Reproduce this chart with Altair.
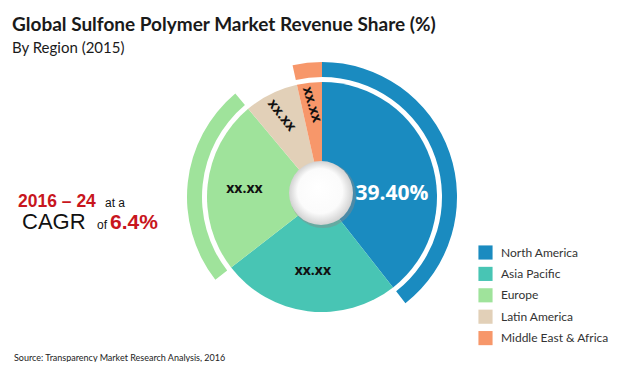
import altair as alt
import pandas as pd

regions = ["North America", "Asia Pacific", "Europe", "Latin America", "Middle East & Africa"]
shares = [39.4, 25.1, 24.4, 7.6, 3.5]
slice_labels = ["", "xx.xx", "xx.xx", "xx.xx", "xx.xx"]
main_label = ["39.40%", "", "", "", ""]
has_outer = [1, 0, 1, 0, 1]
colors = ["#1a8bc0", "#48c5b4", "#9fe39b", "#e2d0b8", "#f7976a"]
label_radius = [0, 75, 78, 91, 93]
label_rotation = [0, 0, 0, 52, 73]

title = "Global Sulfone Polymer Market Revenue Share (%)"
subtitle = "By Region (2015)"
source = "Source: Transparency Market Research Analysis, 2016"

df = pd.DataFrame({
    "region": regions,
    "share": shares,
    "idx": list(range(len(regions))),
    "lab": slice_labels,
    "main": main_label,
    "outer": has_outer,
    "r": label_radius,
    "rot": label_rotation,
})

CX, CY = 314, 189
R_PIE = 115
theta = alt.Theta("share:Q", stack=True)
order = alt.Order("idx:Q")

base = alt.Chart(df)

color = alt.Color(
    "region:N",
    scale=alt.Scale(domain=regions, range=colors),
    legend=alt.Legend(
        orient="none", legendX=470, legendY=237, title=None,
        symbolType="square", symbolSize=200, symbolStrokeWidth=0,
        labelFont="Lato", labelFontSize=12, labelColor="#333333", labelLimit=220,
        rowPadding=6.4, padding=0, labelOffset=8,
    ),
    sort=regions,
)

pie = base.mark_arc(radius=R_PIE, innerRadius=0).encode(
    theta=theta, order=order, color=color,
    x=alt.value(CX), y=alt.value(CY),
)

outer = base.mark_arc(radius=135, innerRadius=120).encode(
    theta=theta, order=order, color=color,
    opacity=alt.Opacity("outer:Q", scale=None),
    x=alt.value(CX), y=alt.value(CY),
)

labels = base.transform_window(
    cum="sum(share)", sort=[alt.SortField("idx")], frame=[None, 0]
).transform_joinaggregate(
    total="sum(share)"
).transform_calculate(
    mid="(datum.cum - datum.share / 2) / datum.total * 2 * PI",
    lx=f"{CX} + datum.r * sin(datum.mid)",
    ly=f"{CY} - datum.r * cos(datum.mid)",
).mark_text(font="Open Sans", fontWeight="bold", fontSize=14, fill="#111111").encode(
    x=alt.X("lx:Q", scale=None, axis=None),
    y=alt.Y("ly:Q", scale=None, axis=None),
    angle=alt.Angle("rot:Q", scale=None),
    text="lab:N",
)

main = base.mark_text(font="Open Sans", fontWeight="bold", fontSize=21, fill="white",
                      radius=72, dx=2, dy=21).encode(
    theta=theta, order=order, text="main:N",
    x=alt.value(CX), y=alt.value(CY),
)

one = alt.Chart(pd.DataFrame({"a": [0]}))

shadow = one.mark_arc(radius=33, theta=0, theta2=6.2832, fill="#8a8a8a", opacity=0.45).encode(
    x=alt.value(CX + 1), y=alt.value(CY - 2))
hole = one.mark_arc(
    radius=32, theta=0, theta2=6.2832,
    fill=alt.RadialGradient(
        gradient="radial",
        stops=[alt.GradientStop(color="#ffffff", offset=0),
               alt.GradientStop(color="#fbfbfb", offset=0.7),
               alt.GradientStop(color="#d2d2d2", offset=1)],
        x1=0.45, y1=0.4, x2=0.5, y2=0.5, r1=0, r2=0.5,
    ),
).encode(x=alt.value(CX - 1), y=alt.value(CY - 4))


def txt(text, x, y, size, weight="normal", color="#111111", font="Lato"):
    return one.mark_text(text=text, align="left", baseline="alphabetic", fontSize=size,
                         fontWeight=weight, fill=color, font=font).encode(
        x=alt.value(x), y=alt.value(y))


red = "#c8161d"
texts = [
    txt(title, 4, 23, 19, "bold", "#1a1a1a"),
    txt(subtitle, 4, 45, 15, "normal", "#1a1a1a"),
    txt("2016 – 24", 10, 199, 17.5, "bold", red, "Liberation Sans"),
    txt("at a", 97, 199, 12, "normal", "#111111", "Liberation Sans"),
    txt("CAGR", 14, 221, 22, "normal", "#111111", "Liberation Sans"),
    txt("of", 89, 221, 12, "normal", "#111111", "Liberation Sans"),
    txt("6.4%", 102, 221, 21, "bold", red, "Liberation Sans"),
    txt(source, 6, 353, 9, "normal", "#222222"),
]

chart = alt.layer(outer, pie, shadow, hole, labels, main, *texts).properties(
    width=604, height=354, padding=0, autosize=alt.AutoSizeParams(type="none"),
).configure_view(stroke=None)

chart.save("out.html", embed_options={"renderer": "svg", "actions": False})
